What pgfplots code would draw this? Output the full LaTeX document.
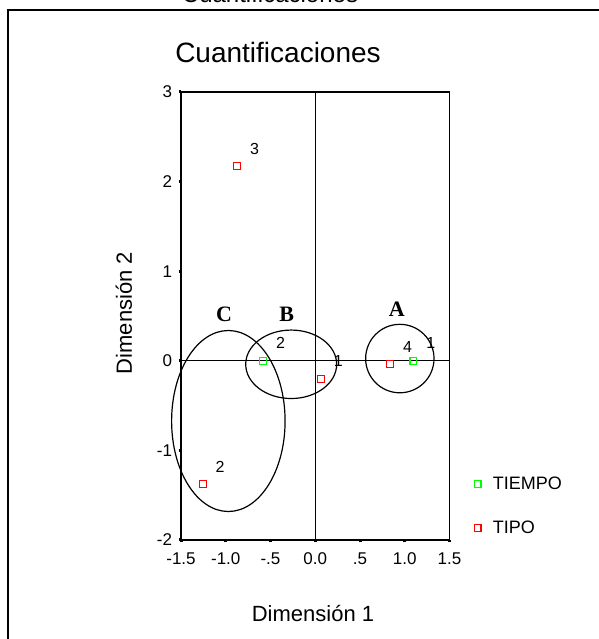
\documentclass[border=0pt]{standalone}
\usepackage{pgfplots}
\pgfplotsset{compat=1.18}
\usepackage{fontspec}
\setmainfont{Liberation Sans}
\newfontfamily\seriffont{Liberation Serif}
\definecolor{pgreen}{RGB}{0,255,0}
\definecolor{pred}{RGB}{255,0,0}
\begin{document}
\begin{tikzpicture}[x=1bp,y=1bp]
\path[use as bounding box] (0,0) rectangle (599,639);
% frame
\draw[line width=2bp] (7.7,-10) -- (7.7,629) -- (620,629);
% cut title at top
\node[anchor=base, font=\fontsize{24bp}{28bp}\selectfont] at (270,636) {Cuantificaciones};
% title
\node[anchor=base, font=\fontsize{28bp}{32bp}\selectfont] at (278,576) {Cuantificaciones};
% axis labels
\node[anchor=base, font=\fontsize{22bp}{26bp}\selectfont] at (313,17.3) {Dimensión 1};
\node[rotate=90, font=\fontsize{22bp}{26bp}\selectfont] at (124,326) {Dimensión 2};
\begin{axis}[
  at={(181bp,99bp)}, anchor=south west,
  scale only axis, width=268.5bp, height=448bp,
  xmin=-1.5, xmax=1.5, ymin=-2, ymax=3,
  clip=false,
  axis line style={line width=1.2bp},
  xtick={-1.5,-1,-0.5,0,0.5,1,1.5},
  xticklabels={-1.5,-1.0,-.5,0.0,.5,1.0,1.5},
  ytick={-2,-1,0,1,2,3},
  yticklabels={-2,-1,0,1,2,3},
  tick align=outside, major tick length=2.5bp,
  major tick style={line width=3bp, black},
  xtick pos=bottom, ytick pos=left,
  tick label style={font=\fontsize{17bp}{20bp}\selectfont},
  xticklabel style={yshift=-7bp},
  yticklabel style={xshift=-3bp},
  legend style={draw=none, fill=none, at={(1.08,0.15)}, anchor=north west,
    font=\fontsize{18bp}{21bp}\selectfont, row sep=26bp, column sep=10bp},
  legend cell align=left,
]
\draw[line width=1.1bp] (axis cs:0,-2) -- (axis cs:0,3);
\draw[line width=1.1bp] (axis cs:-1.5,0) -- (axis cs:1.5,0);
\addplot[only marks, mark=square, mark size=3.4bp, mark options={pgreen, line width=1.1bp, fill=white},
  nodes near coords, point meta=explicit symbolic,
  every node near coord/.append style={anchor=center, xshift=17.5bp, yshift=17.5bp, black, font=\fontsize{16bp}{19bp}\selectfont}]
  table[meta=l] {
x y l
-0.584 0 2
1.096 0 1
};
\addlegendentry{TIEMPO}
\addplot[only marks, mark=square, mark size=3.4bp, mark options={pred, line width=1.1bp, fill=white},
  nodes near coords, point meta=explicit symbolic,
  every node near coord/.append style={anchor=center, xshift=17.5bp, yshift=17.5bp, black, font=\fontsize{16bp}{19bp}\selectfont}]
  table[meta=l] {
x y l
0.061 -0.201 1
-1.258 -1.376 2
-0.874 2.173 3
0.835 -0.037 4
};
\addlegendentry{TIPO}
\draw[line width=1.2bp] (axis cs:-0.971,-0.672) ellipse [x radius=0.634, y radius=1.01];
\draw[line width=1.2bp] (axis cs:-0.269,-0.039) ellipse [x radius=0.508, y radius=0.382];
\draw[line width=1.2bp] (axis cs:0.945,0.025) ellipse [x radius=0.382, y radius=0.382];
\node[font=\seriffont\bfseries\fontsize{22bp}{26bp}\selectfont] at (axis cs:-1.02,0.52) {C};
\node[font=\seriffont\bfseries\fontsize{22bp}{26bp}\selectfont] at (axis cs:-0.32,0.52) {B};
\node[font=\seriffont\bfseries\fontsize{22bp}{26bp}\selectfont] at (axis cs:0.91,0.58) {A};
\end{axis}
\end{tikzpicture}
\end{document}
